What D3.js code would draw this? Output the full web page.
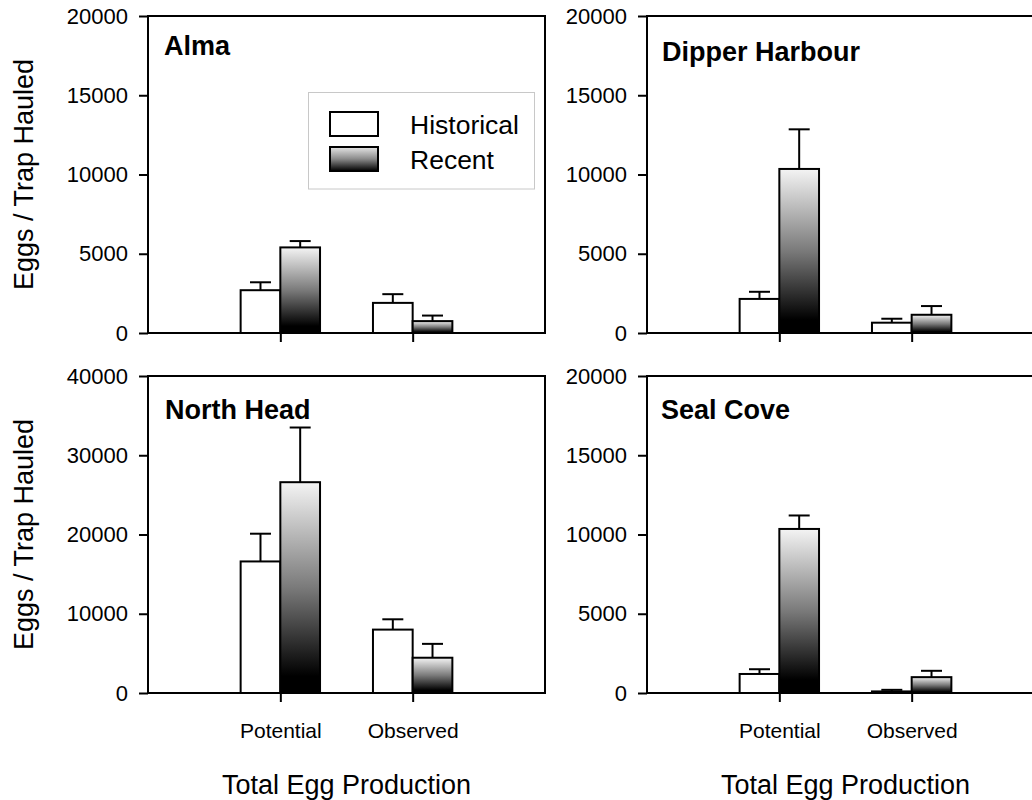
<!DOCTYPE html>
<html>
<head>
<meta charset="utf-8">
<script src="https://cdn.jsdelivr.net/npm/d3@7"></script>
<style>
  html, body { margin: 0; padding: 0; background: #fff; }
  svg { display: block; font-family: "Liberation Sans", Arial, Helvetica, sans-serif; }
</style>
</head>
<body>
<svg id="chart" width="1032" height="800"></svg>
<script>
// ---- data ----
const sites = ["Alma", "Dipper Harbour", "North Head", "Seal Cove"];
const categories = ["Potential", "Observed"];
const seriesNames = ["Historical", "Recent"];
// mean eggs / trap hauled  [Potential, Observed]
const historical = [[2700, 1900], [2150, 650], [16600, 8000], [1200, 100]];
const recent     = [[5400, 750], [10350, 1150], [26600, 4450], [10350, 1000]];
// upper error (SE)
const historicalSE = [[500, 550], [450, 250], [3500, 1300], [300, 100]];
const recentSE     = [[400, 350], [2500, 550], [6900, 1750], [850, 400]];
// y-axis maxima and tick labels per panel
const yMax = [20000, 20000, 40000, 20000];
const yTicks = [
  [0, 5000, 10000, 15000, 20000],
  [0, 5000, 10000, 15000, 20000],
  [0, 10000, 20000, 30000, 40000],
  [0, 5000, 10000, 15000, 20000]
];
const yTitle = "Eggs / Trap Hauled";
const xTitle = "Total Egg Production";

// ---- layout ----
const svg = d3.select("#chart");
const W = 397, H = 317;
const colX = [148, 647];
const rowY = [16, 376];
const titlePos = [[164, 55], [662, 61], [165, 419], [661, 419]];

const defs = svg.append("defs");
const grad = defs.append("linearGradient").attr("id", "grad")
  .attr("x1", 0).attr("y1", 0).attr("x2", 0).attr("y2", 1);
grad.append("stop").attr("offset", "0%").attr("stop-color", "#f4f4f4");
grad.append("stop").attr("offset", "50%").attr("stop-color", "#7a7a7a");
grad.append("stop").attr("offset", "92%").attr("stop-color", "#000");
grad.append("stop").attr("offset", "100%").attr("stop-color", "#000");

const lgrad = defs.append("linearGradient").attr("id", "lgrad")
  .attr("x1", 0).attr("y1", 0).attr("x2", 0).attr("y2", 1);
lgrad.append("stop").attr("offset", "0%").attr("stop-color", "#e6e6e6");
lgrad.append("stop").attr("offset", "50%").attr("stop-color", "#8a8a8a");
lgrad.append("stop").attr("offset", "100%").attr("stop-color", "#000");

sites.forEach((site, i) => {
  const col = i % 2, row = Math.floor(i / 2);
  const x0 = colX[col], y0 = rowY[row];
  const g = svg.append("g");

  const x = d3.scaleLinear().domain([0, 3]).range([x0, x0 + W]);
  const y = d3.scaleLinear().domain([0, yMax[i]]).range([y0 + H, y0]);
  const bw = (x(1) - x(0)) * 0.3;

  // y axis
  const ya = g.append("g").attr("transform", `translate(${x0},0)`)
    .call(d3.axisLeft(y).tickValues(yTicks[i]).tickSize(9).tickSizeOuter(0)
      .tickPadding(11).tickFormat(d3.format("d")));
  ya.select(".domain").remove();
  ya.selectAll(".tick line").attr("stroke", "#000").attr("stroke-width", 2);
  ya.selectAll(".tick text").attr("font-size", 22).attr("fill", "#000")
    .attr("font-family", "Liberation Sans, Arial, sans-serif");

  // x axis
  const xa = g.append("g").attr("transform", `translate(0,${y0 + H})`)
    .call(d3.axisBottom(x).tickValues([1, 2]).tickSize(9).tickSizeOuter(0)
      .tickPadding(21).tickFormat(d => row === 1 ? categories[d - 1] : ""));
  xa.select(".domain").remove();
  xa.selectAll(".tick line").attr("stroke", "#000").attr("stroke-width", 2);
  xa.selectAll(".tick text").attr("font-size", 21).attr("fill", "#000")
    .attr("font-family", "Liberation Sans, Arial, sans-serif");

  // bars
  const data = [];
  categories.forEach((c, j) => {
    data.push({ s: 0, j, v: historical[i][j], e: historicalSE[i][j] });
    data.push({ s: 1, j, v: recent[i][j], e: recentSE[i][j] });
  });
  const bx = d => d.s === 0 ? x(d.j + 1) - bw : x(d.j + 1);

  // error bars (upper only)
  g.selectAll("line.err").data(data).join("line").attr("class", "err")
    .attr("x1", d => bx(d) + bw / 2).attr("x2", d => bx(d) + bw / 2)
    .attr("y1", d => y(d.v)).attr("y2", d => y(d.v + d.e))
    .attr("stroke", "#000").attr("stroke-width", 2);
  g.selectAll("line.cap").data(data).join("line").attr("class", "cap")
    .attr("x1", d => bx(d) + bw / 2 - 10.5).attr("x2", d => bx(d) + bw / 2 + 10.5)
    .attr("y1", d => y(d.v + d.e)).attr("y2", d => y(d.v + d.e))
    .attr("stroke", "#000").attr("stroke-width", 2);

  g.selectAll("rect.bar").data(data).join("rect").attr("class", "bar")
    .attr("x", bx).attr("width", bw)
    .attr("y", d => y(d.v)).attr("height", d => y(0) - y(d.v))
    .attr("fill", d => d.s === 0 ? "#fff" : "url(#grad)")
    .attr("stroke", "#000").attr("stroke-width", 2);

  // frame
  g.append("rect").attr("x", x0).attr("y", y0).attr("width", W).attr("height", H)
    .attr("fill", "none").attr("stroke", "#000").attr("stroke-width", 2);

  // panel title
  g.append("text").attr("x", titlePos[i][0]).attr("y", titlePos[i][1])
    .attr("font-size", 27).attr("font-weight", "bold").attr("fill", "#000")
    .text(site);

  // y title
  if (col === 0) {
    g.append("text")
      .attr("transform", `translate(33,${y0 + H / 2}) rotate(-90)`)
      .attr("text-anchor", "middle").attr("font-size", 27).attr("fill", "#000")
      .text(yTitle);
  }
  // x title
  if (row === 1) {
    g.append("text").attr("x", x0 + W / 2).attr("y", 794)
      .attr("text-anchor", "middle").attr("font-size", 27).attr("fill", "#000")
      .text(xTitle);
  }

  // legend (in first panel)
  if (i === 0) {
    const lg = g.append("g");
    lg.append("rect").attr("x", 308.5).attr("y", 92.5).attr("width", 226).attr("height", 96.5)
      .attr("fill", "#fff").attr("stroke", "#c8c8c8").attr("stroke-width", 1);
    seriesNames.forEach((n, k) => {
      lg.append("rect").attr("x", 330).attr("y", k === 0 ? 112 : 147)
        .attr("width", 48).attr("height", 24)
        .attr("fill", k === 0 ? "#fff" : "url(#lgrad)")
        .attr("stroke", "#000").attr("stroke-width", 2);
      lg.append("text").attr("x", 410).attr("y", k === 0 ? 134 : 169)
        .attr("font-size", 26.5).attr("fill", "#000").text(n);
    });
  }
});
</script>
</body>
</html>
